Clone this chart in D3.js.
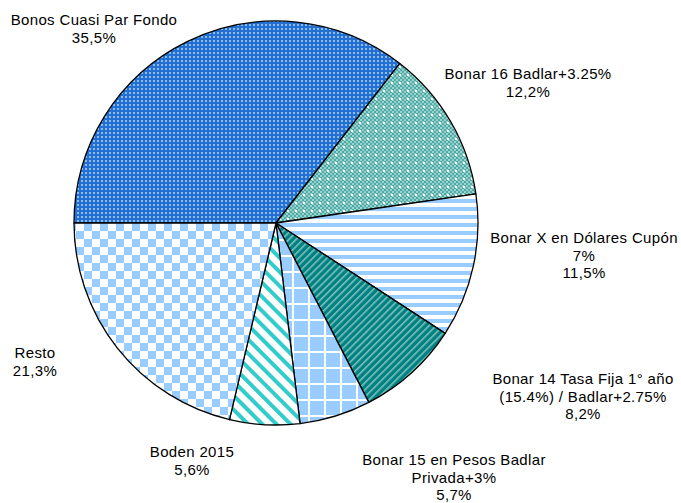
<!DOCTYPE html>
<html>
<head>
<meta charset="utf-8">
<script src="https://cdn.jsdelivr.net/npm/d3@7"></script>
<style>
  html, body { margin: 0; padding: 0; background: #fff; }
  text { font-family: "Liberation Sans", Arial, sans-serif; font-size: 15px; letter-spacing: 0.35px; fill: #000; }
</style>
</head>
<body>
<div id="chart"></div>
<script>
// data
var names = [
    ["Bonos Cuasi Par Fondo"],
    ["Bonar 16 Badlar+3.25%"],
    ["Bonar X en Dólares Cupón", "7%"],
    ["Bonar 14 Tasa Fija 1° año", "(15.4%) / Badlar+2.75%"],
    ["Bonar 15 en Pesos Badlar", "Privada+3%"],
    ["Boden 2015"],
    ["Resto"]
];
var values = [35.5, 12.2, 11.5, 8.2, 5.7, 5.6, 21.3];
var valueLabels = ["35,5%", "12,2%", "11,5%", "8,2%", "5,7%", "5,6%", "21,3%"];

// label layout (centre x, first baseline y)
var labelPos = [[94, 25], [528, 79], [584, 243], [583, 384], [454, 465], [192, 457], [35, 358]];

var width = 681, height = 503;
var cx = 276, cy = 223, radius = 202;

var svg = d3.select("#chart").append("svg")
    .attr("width", width)
    .attr("height", height);

var defs = svg.append("defs");

// 0 Bonos Cuasi : blue with small light squares
var p = defs.append("pattern").attr("id", "pat0").attr("patternUnits", "userSpaceOnUse")
    .attr("width", 4).attr("height", 4);
p.append("rect").attr("width", 4).attr("height", 4).attr("fill", "#236fd2");
p.append("rect").attr("x", 1).attr("y", 1).attr("width", 2).attr("height", 2).attr("fill", "#8cbcf0");

// 1 Bonar 16 : teal checker + white dots
p = defs.append("pattern").attr("id", "pat1").attr("patternUnits", "userSpaceOnUse")
    .attr("width", 8).attr("height", 8);
p.append("rect").attr("width", 8).attr("height", 8).attr("fill", "#4ea9a5");
[[0, 0], [4, 0], [2, 2], [6, 2], [0, 4], [4, 4], [2, 6], [6, 6]].forEach(function(c){
    p.append("rect").attr("x", c[0]).attr("y", c[1]).attr("width", 2).attr("height", 2).attr("fill", "#9bd3cf");
});
p.append("rect").attr("x", 3).attr("y", 3).attr("width", 2).attr("height", 2).attr("fill", "#ffffff");

// 2 Bonar X : horizontal stripes
p = defs.append("pattern").attr("id", "pat2").attr("patternUnits", "userSpaceOnUse")
    .attr("width", 8).attr("height", 8);
p.append("rect").attr("width", 8).attr("height", 8).attr("fill", "#ffffff");
p.append("rect").attr("y", 0).attr("width", 8).attr("height", 4).attr("fill", "#99ccff");

// 3 Bonar 14 : dark teal with light diagonal stripes
p = defs.append("pattern").attr("id", "pat3").attr("patternUnits", "userSpaceOnUse")
    .attr("width", 5).attr("height", 5).attr("patternTransform", "rotate(-45)");
p.append("rect").attr("width", 5).attr("height", 5).attr("fill", "#008080");
p.append("rect").attr("width", 5).attr("height", 1.6).attr("fill", "#7cc2c0");

// 4 Bonar 15 : light blue grid
p = defs.append("pattern").attr("id", "pat4").attr("patternUnits", "userSpaceOnUse")
    .attr("width", 16).attr("height", 16);
p.append("rect").attr("width", 16).attr("height", 16).attr("fill", "#99ccff");
p.append("rect").attr("width", 16).attr("height", 2).attr("fill", "#ffffff");
p.append("rect").attr("width", 2).attr("height", 16).attr("fill", "#ffffff");

// 5 Boden : turquoise diagonal stripes on white
p = defs.append("pattern").attr("id", "pat5").attr("patternUnits", "userSpaceOnUse")
    .attr("width", 10).attr("height", 10).attr("patternTransform", "rotate(45)");
p.append("rect").attr("width", 10).attr("height", 10).attr("fill", "#ffffff");
p.append("rect").attr("width", 10).attr("height", 4).attr("fill", "#33cccc");

// 6 Resto : checkerboard
p = defs.append("pattern").attr("id", "pat6").attr("patternUnits", "userSpaceOnUse")
    .attr("width", 16).attr("height", 16);
p.append("rect").attr("width", 16).attr("height", 16).attr("fill", "#ffffff");
p.append("rect").attr("width", 8).attr("height", 8).attr("fill", "#99ccff");
p.append("rect").attr("x", 8).attr("y", 8).attr("width", 8).attr("height", 8).attr("fill", "#99ccff");

var pie = d3.pie()
    .sort(null)
    .startAngle(-Math.PI / 2)
    .endAngle(Math.PI * 1.5)
    .value(function(d){ return d; });

var arc = d3.arc().innerRadius(0).outerRadius(radius);

var g = svg.append("g").attr("transform", "translate(" + cx + "," + cy + ")");

g.selectAll("path.slice")
    .data(pie(values))
    .enter().append("path")
    .attr("class", "slice")
    .attr("d", arc)
    .attr("fill", function(d, i){ return "url(#pat" + i + ")"; })
    .attr("stroke", "#000")
    .attr("stroke-width", 1.3)
    .attr("stroke-linejoin", "round");

// labels
var labels = svg.selectAll("text.lbl")
    .data(names)
    .enter().append("text")
    .attr("class", "lbl")
    .attr("text-anchor", "middle")
    .attr("x", function(d, i){ return labelPos[i][0]; })
    .attr("y", function(d, i){ return labelPos[i][1]; });

labels.each(function(d, i){
    var t = d3.select(this);
    var lines = d.concat([valueLabels[i]]);
    lines.forEach(function(line, j){
        t.append("tspan")
            .attr("x", labelPos[i][0])
            .attr("dy", j === 0 ? 0 : 17.5)
            .text(line);
    });
});
</script>
</body>
</html>
